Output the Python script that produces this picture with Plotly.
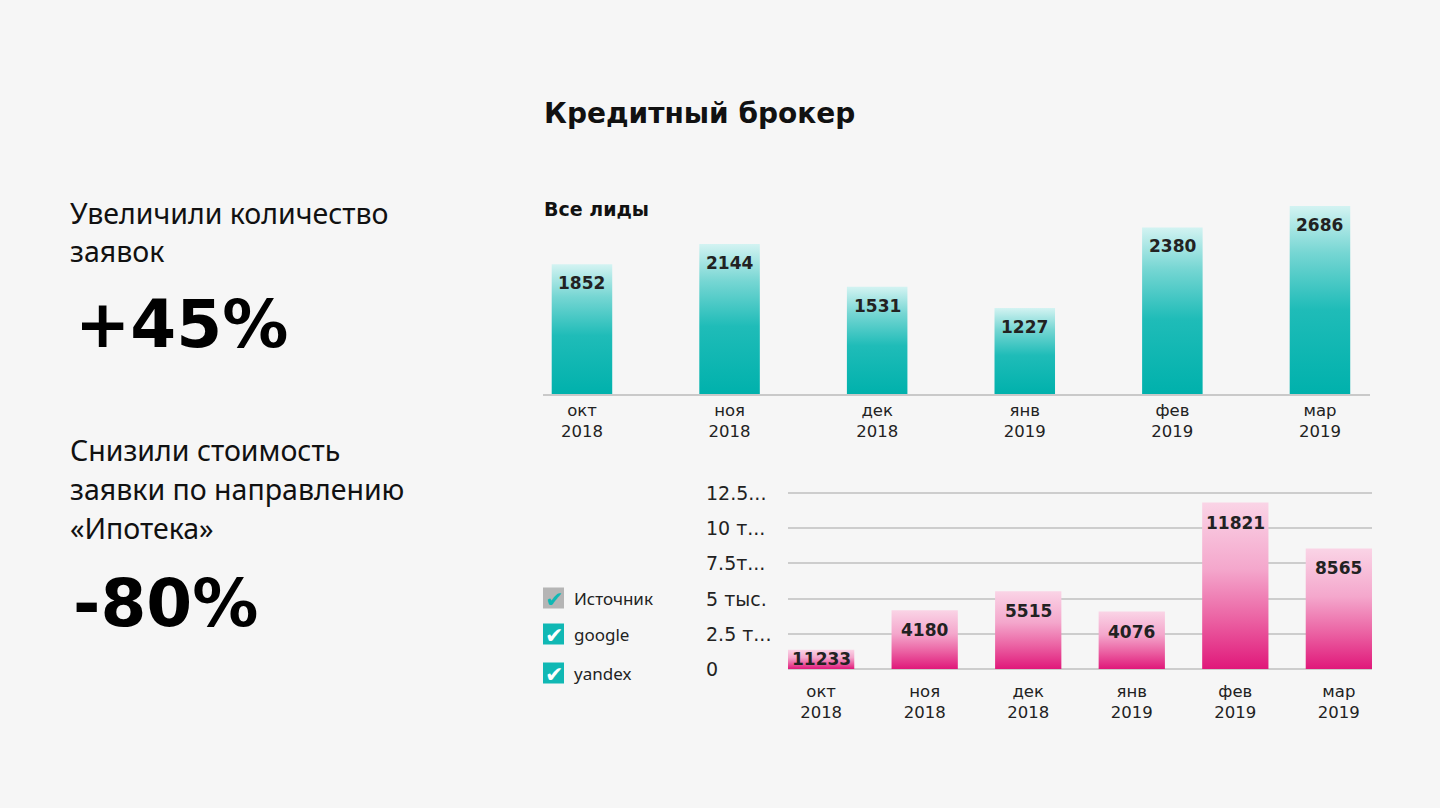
import plotly.graph_objects as go

# ---------------- data ----------------
months = ["окт", "ноя", "дек", "янв", "фев", "мар"]
years = ["2018", "2018", "2018", "2019", "2019", "2019"]
leads = [1852, 2144, 1531, 1227, 2380, 2686]
cost_bars = [1360, 4180, 5515, 4076, 11821, 8565]
cost_labels = ["11233", "4180", "5515", "4076", "11821", "8565"]
ytick_vals = [0, 2500, 5000, 7500, 10000, 12500]
ytick_text = ["0", "2.5 т...", "5 тыс.", "7.5т...", "10 т...", "12.5..."]
legend_items = ["Источник", "google", "yandex"]

title = "Кредитный брокер"
subtitle = "Все лиды"
left_block1 = ["Увеличили количество", "заявок"]
big1 = "+45%"
left_block2 = ["Снизили стоимость", "заявки по направлению", "«Ипотека»"]
big2 = "-80%"

# ---------------- layout helpers ----------------
W, H = 1440, 808
def px(x):
    return x / W
def py(y):
    return 1 - y / H

TEAL = [[0, "#00b1ac"], [0.45, "#1fbcb8"], [0.75, "#76d6d3"], [1, "#d3f3f2"]]
PINK = [[0, "#e0187a"], [0.3, "#eb62a3"], [0.6, "#f4a7cc"], [1, "#fad4e6"]]

fig = go.Figure()

tick_text = [f"{m}<br>{y}" for m, y in zip(months, years)]

# top chart geometry
top_range = [0, 2700]
top_dom = [py(394), py(205)]
top_scale = (top_dom[1] - top_dom[0]) * H / (top_range[1] - top_range[0])
bw1 = 0.41

# bottom chart geometry
bot_range = [0, 12600]
bot_dom = [py(669), py(491.6)]
bot_scale = (bot_dom[1] - bot_dom[0]) * H / (bot_range[1] - bot_range[0])
bw2 = 0.64

annotations = []

for i, v in enumerate(leads):
    fig.add_trace(go.Scatter(
        x=[i - bw1 / 2, i + bw1 / 2, i + bw1 / 2, i - bw1 / 2, i - bw1 / 2],
        y=[0, 0, v, v, 0], xaxis="x", yaxis="y",
        mode="lines", line=dict(width=0), fill="toself",
        fillgradient=dict(type="vertical", colorscale=TEAL),
        hoverinfo="skip", showlegend=False))
    annotations.append(dict(
        x=i, y=v, xref="x", yref="y", text=str(v), showarrow=False,
        yanchor="middle", yshift=-min(19, v * top_scale / 2),
        font=dict(family="DejaVu Sans", size=17, color="#222222", weight="bold")))

for i, v in enumerate(cost_bars):
    fig.add_trace(go.Scatter(
        x=[i - bw2 / 2, i + bw2 / 2, i + bw2 / 2, i - bw2 / 2, i - bw2 / 2],
        y=[0, 0, v, v, 0], xaxis="x2", yaxis="y2",
        mode="lines", line=dict(width=0), fill="toself",
        fillgradient=dict(type="vertical", colorscale=PINK),
        hoverinfo="skip", showlegend=False))
    annotations.append(dict(
        x=i, y=v, xref="x2", yref="y2", text=cost_labels[i], showarrow=False,
        yanchor="middle", yshift=-min(20, v * bot_scale / 2),
        font=dict(family="DejaVu Sans", size=17, color="#222222", weight="bold")))

# y tick labels of bottom chart (left aligned)
for v, t in zip(ytick_vals, ytick_text):
    annotations.append(dict(
        x=px(704), y=v, xref="paper", yref="y2", text=t, showarrow=False,
        xanchor="left", yanchor="middle",
        font=dict(family="DejaVu Sans", size=19, color="#222222")))

# titles
annotations.append(dict(x=px(542), y=py(113), xref="paper", yref="paper", text=title,
                        showarrow=False, xanchor="left", yanchor="middle",
                        font=dict(family="DejaVu Sans", size=28, color="#111111", weight="bold")))
annotations.append(dict(x=px(542), y=py(209), xref="paper", yref="paper", text=subtitle,
                        showarrow=False, xanchor="left", yanchor="middle",
                        font=dict(family="DejaVu Sans", size=19, color="#111111", weight="bold")))

# left text blocks
for t, y in zip(left_block1, [213, 251]):
    annotations.append(dict(x=px(68), y=py(y), xref="paper", yref="paper", text=t,
                            showarrow=False, xanchor="left", yanchor="middle",
                            font=dict(family="Noto Sans", size=28.5, color="#111111")))
for t, y in zip(left_block2, [450, 489, 528]):
    annotations.append(dict(x=px(68), y=py(y), xref="paper", yref="paper", text=t,
                            showarrow=False, xanchor="left", yanchor="middle",
                            font=dict(family="Noto Sans", size=28.5, color="#111111")))
annotations.append(dict(x=px(73), y=py(324), xref="paper", yref="paper", text=big1,
                        showarrow=False, xanchor="left", yanchor="middle",
                        font=dict(family="DejaVu Sans", size=66, color="#000000", weight="bold")))
annotations.append(dict(x=px(71), y=py(603), xref="paper", yref="paper", text=big2,
                        showarrow=False, xanchor="left", yanchor="middle",
                        font=dict(family="DejaVu Sans", size=66, color="#000000", weight="bold")))

# legend with check boxes
shapes = []
box_cy = [598, 634, 673]
box_fill = ["#b5b5b5", "#10b8b4", "#10b8b4"]
check_col = ["#10b8b4", "#ffffff", "#ffffff"]
for name, cy, bf, cc in zip(legend_items, box_cy, box_fill, check_col):
    shapes.append(dict(type="rect", xref="paper", yref="paper",
                       x0=px(543), x1=px(564), y0=py(cy + 10.5), y1=py(cy - 10.5),
                       fillcolor=bf, line=dict(width=0)))
    annotations.append(dict(x=px(554), y=py(cy + 1), xref="paper", yref="paper", text="✔",
                            showarrow=False, xanchor="center", yanchor="middle",
                            font=dict(family="DejaVu Sans", size=22, color=cc)))
    annotations.append(dict(x=px(572), y=py(cy), xref="paper", yref="paper", text=name,
                            showarrow=False, xanchor="left", yanchor="middle",
                            font=dict(family="Noto Sans", size=17, color="#222222")))

fig.update_layout(
    width=W, height=H, margin=dict(l=0, r=0, t=0, b=0),
    paper_bgcolor="#f6f6f6", plot_bgcolor="rgba(0,0,0,0)",
    showlegend=False, annotations=annotations, shapes=shapes,
    xaxis=dict(domain=[px(543), px(1370)], range=[-0.264, 5.339], anchor="y",
               tickvals=list(range(len(months))), ticktext=tick_text,
               showline=True, linecolor="#c9c9c9", linewidth=1.5,
               showgrid=False, zeroline=False, ticks="", ticklabelstandoff=0,
               tickfont=dict(family="DejaVu Sans", size=16.5, color="#222222"), fixedrange=True),
    yaxis=dict(domain=top_dom, range=top_range, anchor="x", visible=False, fixedrange=True),
    xaxis2=dict(domain=[px(788), px(1372)], range=[-0.32, 5.32], anchor="y2",
                tickvals=list(range(len(months))), ticktext=tick_text,
                showline=False, showgrid=False, zeroline=False, ticks="", ticklabelstandoff=10,
                tickfont=dict(family="DejaVu Sans", size=16.5, color="#222222"), fixedrange=True),
    yaxis2=dict(domain=bot_dom, range=bot_range, anchor="x2", tickvals=ytick_vals,
                showticklabels=False, showgrid=True, gridcolor="#cdcdcd", gridwidth=1.5,
                zeroline=True, zerolinecolor="#cdcdcd", zerolinewidth=1.5, fixedrange=True),
)

fig.write_html("out.html", config={"displayModeBar": False},
               post_script="document.body.style.margin='0';document.body.style.overflow='hidden';")
